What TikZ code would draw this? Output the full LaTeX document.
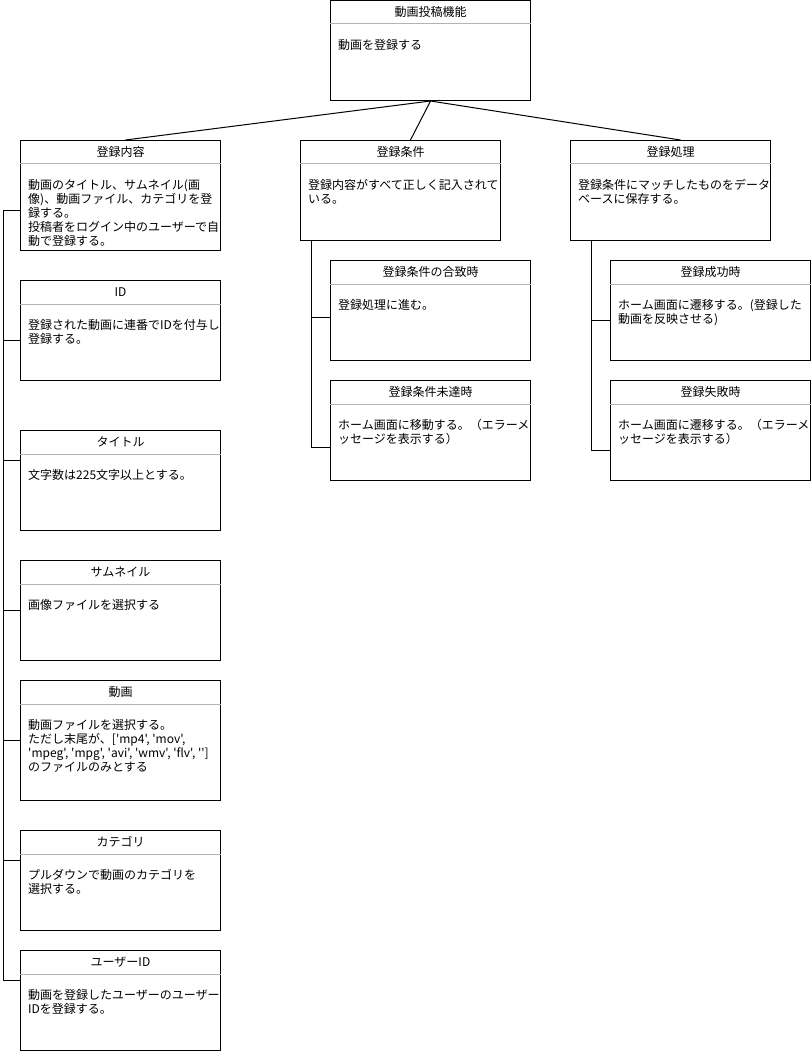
\documentclass[tikz,border=0pt]{standalone}
\usepackage{fontspec}
\setmainfont{Noto Sans CJK JP}[Ligatures=TeXOff]
\usepackage{tikz}
\usepackage{color}
\usetikzlibrary{calc}
\definecolor{sepgray}{HTML}{B3B3B3}
\tikzset{
	card/.style={draw, line width=1pt, rectangle, minimum width=200pt, anchor=north west, inner sep=0pt},
	sep/.style={draw=sepgray, line width=1pt},
	head/.style={inner sep=0pt, text height=10.5pt, text depth=1.5pt, font=\fontsize{12}{14}\selectfont},
	body/.style={inner sep=0pt, anchor=north west, align=left, font=\fontsize{12}{14}\selectfont},
	link/.style={draw, line width=1pt}
}
\def\drawCard#1#2#3#4#5#6{
\node[card, minimum height=#4pt] (#1) at (#2,#3) {};
\draw[sep] ([yshift=-24pt]#1.north west) -- ([yshift=-24pt]#1.north east);
\node[head] (#1t) at ([yshift=-12pt]#1.north) {#5};
\node[body] (#1b) at ([xshift=8pt,yshift=-39pt]#1.north west) {#6};
}

\begin{document}
\begin{tikzpicture}[x=1pt, y=-1pt]
	\useasboundingbox (0,0) rectangle (811,1051);
	\drawCard{kino}{330}{0}{100}{動画投稿機能}{動画を登録する}
	\drawCard{naiyo}{20}{140}{110}{登録内容}{動画のタイトル、サムネイル(画\\像)、動画ファイル、カテゴリを登\\録する。\\投稿者をログイン中のユーザーで自\\動で登録する。}
	\drawCard{joken}{300}{140}{100}{登録条件}{登録内容がすべて正しく記入されて\\いる。}
	\drawCard{shori}{570}{140}{100}{登録処理}{登録条件にマッチしたものをデータ\\ベースに保存する。}
	\drawCard{id}{20}{280}{100}{ID}{登録された動画に連番でIDを付与し\\登録する。}
	\drawCard{title}{20}{430}{100}{タイトル}{文字数は225文字以上とする。}
	\drawCard{thumb}{20}{560}{100}{サムネイル}{画像ファイルを選択する}
	\drawCard{movie}{20}{680}{120}{動画}{動画ファイルを選択する。\\ただし末尾が、['mp4', 'mov',\\'mpeg', 'mpg', 'avi', 'wmv', 'flv', '']\\のファイルのみとする}
	\drawCard{category}{20}{830}{100}{カテゴリ}{プルダウンで動画のカテゴリを\\選択する。}
	\drawCard{userid}{20}{950}{100}{ユーザーID}{動画を登録したユーザーのユーザー\\IDを登録する。}
	\drawCard{gachi}{330}{260}{100}{登録条件の合致時}{登録処理に進む。}
	\drawCard{mitatsu}{330}{380}{100}{登録条件未達時}{ホーム画面に移動する。（エラーメ\\ッセージを表示する）}
	\drawCard{seiko}{610}{260}{100}{登録成功時}{ホーム画面に遷移する。(登録した\\動画を反映させる)}
	\drawCard{shippai}{610}{380}{100}{登録失敗時}{ホーム画面に遷移する。（エラーメ\\ッセージを表示する）}
	\draw[link] (kino.south) -- ([xshift=5pt]naiyo.north);
	\draw[link] (kino.south) -- ([xshift=10pt]joken.north);
	\draw[link] (kino.south) -- ([xshift=10pt]shori.north);
	\coordinate (trunk) at (3,210);
	\draw[link] ([yshift=-70pt]naiyo.north west) -- (trunk);
	\draw[link] (trunk) |- ([yshift=-60pt]id.north west);
	\draw[link] (trunk) |- ([yshift=-30pt]title.north west);
	\draw[link] (trunk) |- ([yshift=-50pt]thumb.north west);
	\draw[link] (trunk) |- ([yshift=-60pt]movie.north west);
	\draw[link] (trunk) |- ([yshift=-30pt]category.north west);
	\draw[link] (trunk) |- ([yshift=-30pt]userid.north west);
	\draw[link] ([xshift=11pt]joken.south west) |- ([yshift=-57pt]gachi.north west);
	\draw[link] ([xshift=11pt]joken.south west) |- ([yshift=-67pt]mitatsu.north west);
	\draw[link] ([xshift=21pt]shori.south west) |- ([yshift=-60pt]seiko.north west);
	\draw[link] ([xshift=21pt]shori.south west) |- ([yshift=-70pt]shippai.north west);
\end{tikzpicture}
\end{document}
